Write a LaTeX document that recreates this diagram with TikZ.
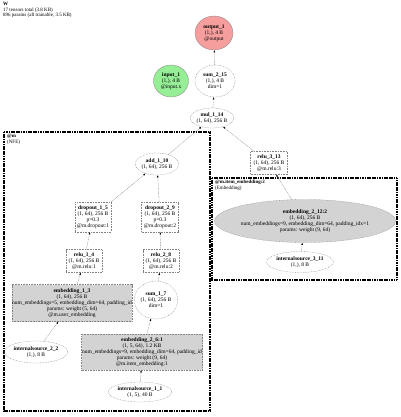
\documentclass[tikz,border=0pt]{standalone}
\usepackage{fontspec}
\setmainfont{Liberation Serif}
\usetikzlibrary{shapes.geometric,arrows.meta}
\definecolor{embgray}{RGB}{211,211,211}
\definecolor{outred}{RGB}{246,158,158}
\definecolor{ingreen}{RGB}{150,238,150}
\definecolor{lnc}{RGB}{130,130,130}
\tikzset{
  txt/.style={font=\fontsize{5.5}{6.1}\selectfont, align=center, inner sep=0pt},
  ten/.style={txt, draw=lnc, line width=0.3pt, dash pattern=on 0.8pt off 0.8pt},
  boxn/.style={ten, rectangle},
  elln/.style={ten, ellipse},
  embf/.style={fill=embgray},
  clus/.style={draw=black, line width=1.3pt, dash pattern=on 1.2pt off 0.5pt},
  edge/.style={draw=lnc, line width=0.35pt, dash pattern=on 0.9pt off 0.7pt,
    -{Latex[length=2.2pt,width=1.8pt,black]}, shorten >=0pt},
  lab/.style={font=\fontsize{5}{5.6}\selectfont, align=left, inner sep=0pt, anchor=north west}
}
\begin{document}
\begin{tikzpicture}[x=1pt,y=-1pt]
\useasboundingbox (0,0) rectangle (400,417);
% title
\node[lab] (title) at (3,2) {\textbf{W}\\17 tensors total (3.8 KB)\\896 params (all trainable, 3.5 KB)};
% clusters
\draw[clus] (4,132) rectangle (210,411);
\node[lab] (cl1) at (7,134) {\textbf{@m}\\(NFE)};
\draw[clus] (212,178) rectangle (397,280);
\node[lab] (cl2) at (215,180) {\textbf{@m.item\_embedding:2}\\(Embedding)};
% nodes
\node[ellipse, txt, draw=lnc, line width=0.3pt, fill=outred, minimum width=38pt, minimum height=34pt] (out) at (214,33) {\textbf{output\_1}\\(1,), 4 B\\@output};
\node[ellipse, txt, draw=lnc, line width=0.3pt, fill=ingreen, minimum width=35pt, minimum height=32pt] (in) at (171,81) {\textbf{input\_1}\\(1,), 4 B\\@input.x};
\node[elln, minimum width=40pt, minimum height=32pt] (sum2) at (215,81) {\textbf{sum\_2\_15}\\(1,), 4 B\\dim=1};
\node[elln, minimum width=40pt, minimum height=20pt] (mul) at (212,118) {\textbf{mul\_1\_14}\\(1, 64), 256 B};
\node[elln, minimum width=40pt, minimum height=22pt] (add) at (157,164) {\textbf{add\_1\_10}\\(1, 64), 256 B};
\node[boxn, minimum width=37pt, minimum height=23pt] (relu3) at (269,163) {\textbf{relu\_3\_13}\\(1, 64), 256 B\\@m.relu:3};
\node[boxn, minimum width=36pt, minimum height=30pt] (drop1) at (93,217) {\textbf{dropout\_1\_5}\\(1, 64), 256 B\\p=0.3\\@m.dropout:1};
\node[boxn, minimum width=37pt, minimum height=30pt] (drop2) at (160,217) {\textbf{dropout\_2\_9}\\(1, 64), 256 B\\p=0.3\\@m.dropout:2};
\node[boxn, minimum width=36pt, minimum height=23pt] (relu1) at (84,261) {\textbf{relu\_1\_4}\\(1, 64), 256 B\\@m.relu:1};
\node[boxn, minimum width=36pt, minimum height=23pt] (relu2) at (161,261) {\textbf{relu\_2\_8}\\(1, 64), 256 B\\@m.relu:2};
\node[boxn, embf, minimum width=120pt, minimum height=37pt] (emb1) at (72,303) {\textbf{embedding\_1\_3}\\(1, 64), 256 B\\num\_embeddings=5, embedding\_dim=64, padding\_id\\params: weight (5, 64)\\@m.user\_embedding};
\node[elln, minimum width=37pt, minimum height=38pt] (sum1) at (156,300) {\textbf{sum\_1\_7}\\(1, 64), 256 B\\dim=1};
\node[elln, minimum width=50pt, minimum height=22pt] (is2) at (36,352) {\textbf{internalsource\_2\_2}\\(1,), 8 B};
\node[boxn, embf, minimum width=121pt, minimum height=36pt] (emb2) at (142,352) {\textbf{embedding\_2\_6:1}\\(1, 5, 64), 1.2 KB\\num\_embeddings=9, embedding\_dim=64, padding\_id\\params: weight (9, 64)\\@m.item\_embedding:1};
\node[elln, minimum width=58pt, minimum height=20pt] (is1) at (140,392) {\textbf{internalsource\_1\_1}\\(1, 5), 40 B};
\node[elln, embf, minimum width=176pt, minimum height=43pt] (emb3) at (305,221) {\textbf{embedding\_2\_12:2}\\(1, 64), 256 B\\num\_embeddings=9, embedding\_dim=64, padding\_idx=1\\params: weight (9, 64)};
\node[elln, minimum width=56pt, minimum height=21pt] (is3) at (300,262) {\textbf{internalsource\_3\_11}\\(1,), 8 B};
% edges
\draw[edge] (sum2) -- (out);
\draw[edge] (mul) -- (sum2);
\draw[edge] (add) -- (mul);
\draw[edge] (relu3) -- (mul);
\draw[edge] (emb3) -- (relu3);
\draw[edge] (is3) -- (emb3);
\draw[edge] (drop1) -- (add);
\draw[edge] (drop2) -- (add);
\draw[edge] (relu1) -- (drop1);
\draw[edge] (relu2) -- (drop2);
\draw[edge] (emb1) -- (relu1);
\draw[edge] (sum1) -- (relu2);
\draw[edge] (is2) -- (emb1);
\draw[edge] (emb2) -- (sum1);
\draw[edge] (is1) -- (emb2);
\end{tikzpicture}
\end{document}
